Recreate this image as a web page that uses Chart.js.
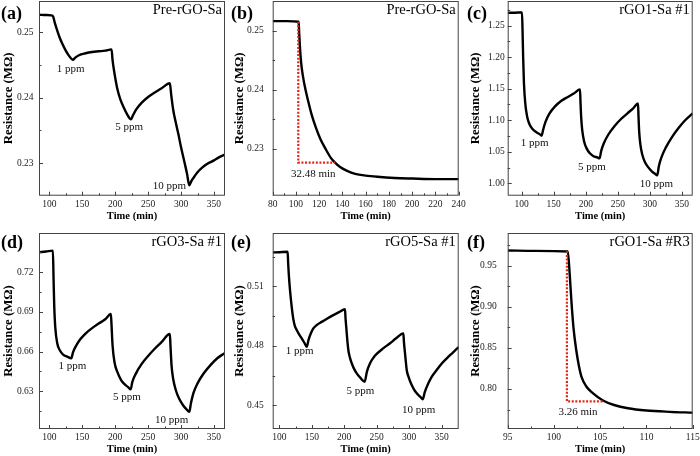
<!DOCTYPE html>
<html>
<head>
<meta charset="utf-8">
<script src="https://cdn.jsdelivr.net/npm/chart.js@4.4.0/dist/chart.umd.min.js"></script>
<style>
  body { margin: 0; background: #fff; width: 700px; height: 456px; position: relative; overflow: hidden; }
  canvas { position: absolute; }
</style>
</head>
<body>
<script>
// ---- data: [time (min), resistance (MΩ)] ----
const curveA = [[84.4,0.2527],[95,0.25265],[103,0.2526],[106,0.2524],[108,0.2516],[111,0.2506],[115,0.2494],[120,0.2482],[125,0.2472],[130,0.2464],[136,0.2458],
  [139,0.2461],[145,0.2465],[155,0.2468],[165,0.2470],[175,0.2471],[185,0.2472],[194.5,0.2474],
  [196,0.2458],[199,0.2437],[203,0.2415],[208,0.2397],[213,0.2385],[218,0.2375],[224,0.2367],
  [227,0.2373],[232,0.2382],[240,0.2392],[250,0.2401],[260,0.2408],[270,0.2414],[283,0.2422],
  [285,0.2405],[288,0.2382],[292,0.2362],[296,0.2344],[300,0.2324],[305,0.2302],[309,0.2284],[312.5,0.2266],
  [316,0.2273],[320,0.2279],[325,0.2286],[332,0.2293],[340,0.2299],[350,0.2304],[358,0.2309],[366.7,0.2313]];

const curveB = [[80,0.2516],[92,0.2516],[102.3,0.2515],[102.8,0.2495],[103.5,0.2470],[104.5,0.2445],[106,0.2423],[108,0.2402],
  [110.5,0.2381],[113.5,0.2358],[117,0.2337],[121,0.2317],[125.5,0.2300],[130,0.2285],[133.6,0.2277],[138,0.22695],
  [144,0.2263],[151,0.2258],[160,0.2255],[170,0.2253],[185,0.2251],[200,0.2250],[220,0.2249],[240,0.2249]];
const redB = [[102,0.2515],[102,0.2277],[133.6,0.2277]];

const curveC = [[78.2,1.2704],[90,1.2706],[100.5,1.2712],[101.3,1.245],[102.3,1.200],[103.5,1.160],[105.5,1.128],[108.5,1.106],[112,1.094],[117,1.086],[123,1.081],[128,1.078],[131,1.0756],
  [133.5,1.085],[137,1.097],[143,1.110],[152,1.122],[162,1.131],[172,1.137],[182,1.143],[191,1.149],
  [191.8,1.128],[192.8,1.105],[194.5,1.084],[197.5,1.066],[201.5,1.055],[206,1.048],[212,1.043],[218,1.041],[221.5,1.0395],
  [224,1.051],[228,1.063],[235,1.077],[245,1.091],[255,1.102],[265,1.111],[274,1.119],[281.5,1.1265],
  [282.3,1.105],[283.3,1.082],[285,1.063],[288,1.046],[292,1.034],[297,1.026],[303,1.019],[308,1.015],[311.5,1.0125],
  [314,1.027],[318,1.041],[325,1.057],[335,1.074],[345,1.088],[355,1.100],[366.8,1.111]];

const curveD = [[84.4,0.7351],[95,0.7357],[105.5,0.7364],[106.5,0.715],[107.5,0.695],[109,0.679],[112,0.6665],[116,0.661],[121,0.6577],[127,0.6562],[133.5,0.6550],
  [136,0.6595],[140,0.6638],[147,0.6693],[155,0.6737],[165,0.6778],[175,0.6812],[185,0.6845],[193.5,0.6885],
  [194.5,0.6800],[196,0.6650],[199,0.6520],[203,0.6450],[209,0.6385],[215,0.6350],[220,0.6330],[223.5,0.6315],
  [226,0.6370],[231,0.6430],[240,0.6505],[250,0.6567],[260,0.6622],[270,0.6670],[283,0.6733],
  [284,0.6640],[285.5,0.6500],[288,0.6395],[292,0.6310],[297,0.6245],[303,0.6195],[308,0.6165],[312.5,0.6145],
  [315,0.6210],[319,0.6290],[325,0.6360],[335,0.6440],[345,0.6500],[355,0.6550],[366.7,0.6590]];

const curveE = [[89.8,0.5272],[100,0.5273],[112.8,0.5275],[113.6,0.522],[114.5,0.5166],[116.5,0.508],[119.1,0.4997],[121.6,0.4935],[124,0.4900],[126.8,0.4880],[130.5,0.4858],[134.5,0.4838],[138.5,0.4816],[142.2,0.4795],
  [145,0.4830],[148.5,0.4862],[152.4,0.4888],[158,0.4906],[165.3,0.4921],[174,0.4938],[183.2,0.4955],[192,0.4970],[201.2,0.4985],
  [202,0.4940],[203.5,0.4880],[205,0.4820],[206.5,0.4775],[209,0.4738],[211.6,0.4712],[215,0.4685],[219.3,0.4661],[225,0.4638],[231.5,0.4619],
  [235,0.4670],[239.8,0.4712],[245,0.4740],[250,0.4759],[260,0.4787],[270.6,0.4813],[280,0.4838],[291.1,0.4863],
  [292,0.4820],[293.7,0.4762],[295,0.4718],[296.3,0.4678],[299.5,0.4640],[304,0.4602],[309,0.4572],[314.2,0.4552],[318,0.4540],[321,0.4530],
  [324,0.4565],[329.6,0.4611],[335,0.4645],[342.5,0.4678],[350,0.4710],[358,0.4737],[367,0.4765],[376.4,0.4794]];

const curveF = [[95,0.9685],[98,0.9680],[101.5,0.9672],[101.7,0.940],[101.9,0.905],[102.1,0.876],[102.4,0.848],[102.7,0.828],[103.0,0.814],
  [103.5,0.803],[104.2,0.795],[105.3,0.786],[106.5,0.7805],[108,0.7765],[110,0.7738],[112.5,0.7722],[115,0.7712]];
const redF = [[101.4,0.9675],[101.4,0.785],[105.3,0.785]];

// annotations: [text, time, resistance]
const notesA = [['1 ppm',132.6,0.2444],['5 ppm',221.4,0.2355],['10 ppm',282.4,0.2265]];
const notesB = [['32.48 min',114.9,0.2258]];
const notesC = [['1 ppm',120.3,1.0638],['5 ppm',209.7,1.0257],['10 ppm',310,0.999]];
const notesD = [['1 ppm',135,0.6489],['5 ppm',218,0.6253],['10 ppm',285.8,0.6085]];
const notesE = [['1 ppm',131.5,0.4775],['5 ppm',225,0.4570],['10 ppm',314.8,0.4476]];
const notesF = [['3.26 min',102.6,0.7717]];

// tick values
const timeTicks = [100,150,200,250,300,350];
const timeMinor = [125,175,225,275,325];
const timeTicksB = [80,100,120,140,160,180,200,220,240];
const timeMinorB = [90,110,130,150,170,190,210,230];
const timeTicksF = [95,100,105,110,115];
const timeMinorF = [97.5,102.5,107.5,112.5];
const resTicksAB = [0.23,0.24,0.25];
const resMinorAB = [0.235,0.245];
const resTicksC = [1.00,1.05,1.10,1.15,1.20,1.25];
const resMinorC = [1.025,1.075,1.125,1.175,1.225,1.275];
const resTicksD = [0.63,0.66,0.69,0.72];
const resMinorD = [0.615,0.645,0.675,0.705,0.735];
const resTicksE = [0.45,0.48,0.51];
const resMinorE = [0.465,0.495,0.525];
const resTicksF = [0.80,0.85,0.90,0.95];
const resMinorF = [0.775,0.825,0.875,0.925,0.975];

Chart.defaults.font.family = '"Liberation Serif", "Times New Roman", serif';

// frame, inward ticks, panel letter, title and notes
const decor = {
  id: 'decor',
  afterDraw(chart, args, o) {
    const {ctx, chartArea: a} = chart;
    const xs = chart.scales.x, ys = chart.scales.y;
    ctx.save();
    ctx.strokeStyle = '#444';
    ctx.lineWidth = 1;
    ctx.beginPath();
    const xt = (list, len) => list.forEach(v => {
      const px = Math.round(xs.getPixelForValue(v)) + 0.5;
      ctx.moveTo(px, a.bottom); ctx.lineTo(px, a.bottom - len);
    });
    const yt = (list, len) => list.forEach(v => {
      const py = Math.round(ys.getPixelForValue(v)) + 0.5;
      if (py < a.top || py > a.bottom) return;
      ctx.moveTo(a.left, py); ctx.lineTo(a.left + len, py);
    });
    xt(o.xTicks, 4); xt(o.xMinor, 2.5);
    yt(o.yTicks, 4); yt(o.yMinor, 2.5);
    ctx.stroke();
    ctx.strokeRect(a.left + 0.5, a.top + 0.5, a.width - 1, a.height - 1);

    ctx.fillStyle = '#000';
    ctx.textBaseline = 'middle';
    ctx.font = 'bold 18px "Liberation Serif"';
    ctx.textAlign = 'left';
    ctx.fillText(o.tag, 1, o.tagY);
    ctx.font = '14.5px "Liberation Serif"';
    ctx.textAlign = 'right';
    ctx.fillText(o.title, a.right - 3, a.top + 9.5);
    ctx.font = '11px "Liberation Serif"';
    ctx.fillStyle = '#111';
    ctx.textAlign = 'center';
    o.notes.forEach(n => ctx.fillText(n[0], xs.getPixelForValue(n[1]), ys.getPixelForValue(n[2])));
    ctx.restore();
  }
};

function makePanel(p) {
  const cv = document.createElement('canvas');
  cv.width = p.w; cv.height = p.h;
  cv.style.left = p.left + 'px';
  cv.style.top = p.top + 'px';
  document.body.appendChild(cv);

  const datasets = [{
    data: p.curve.map(([x, y]) => ({x, y})),
    borderColor: '#000', borderWidth: 2.4, pointRadius: 0,
    cubicInterpolationMode: 'monotone', fill: false
  }];
  if (p.red) {
    datasets.unshift({
      data: p.red.map(([x, y]) => ({x, y})),
      borderColor: '#e3241b', borderWidth: 2.2, borderDash: [2, 1.6],
      pointRadius: 0, tension: 0, fill: false
    });
  }

  new Chart(cv, {
    type: 'line',
    data: {datasets},
    options: {
      responsive: false,
      animation: false,
      events: [],
      layout: {autoPadding: false, padding: {top: p.padTop, right: p.padRight, left: 0, bottom: 0}},
      plugins: {
        legend: {display: false},
        tooltip: {enabled: false},
        decor: {tag: p.tag, tagY: p.tagY, title: p.title, notes: p.notes,
                xTicks: p.xTicks, xMinor: p.xMinor, yTicks: p.yTicks, yMinor: p.yMinor}
      },
      scales: {
        x: {
          type: 'linear', min: p.xMin, max: p.xMax,
          grid: {display: false, drawTicks: false}, border: {display: false},
          ticks: {autoSkip: false, maxRotation: 0, padding: 3, color: '#222', font: {size: 9.5}, callback: v => v},
          afterBuildTicks: s => { s.ticks = p.xTicks.map(v => ({value: v})); },
          afterFit: s => { s.height = p.xH; s.paddingLeft = 0; s.paddingRight = 0; },
          title: {display: true, text: 'Time (min)', color: '#000', font: {size: 10.5, weight: 'bold'},
                  padding: {top: 0, bottom: p.xTitlePad}}
        },
        y: {
          type: 'linear', min: p.yMin, max: p.yMax,
          grid: {display: false, drawTicks: false}, border: {display: false},
          ticks: {padding: p.yTickPad, color: '#222', font: {size: 9.5}, callback: v => v.toFixed(2)},
          afterBuildTicks: s => { s.ticks = p.yTicks.map(v => ({value: v})); },
          afterFit: s => { s.width = p.yW; s.paddingTop = 0; s.paddingBottom = 0; },
          title: {display: true, text: 'Resistance (MΩ)', color: '#000', font: {size: 12.8, weight: 'bold'},
                  padding: {top: p.yTitlePad, bottom: 0}}
        }
      }
    },
    plugins: [decor]
  });
}

const row1 = {top: 0, h: 228, padTop: 1, xH: 32.3, xTitlePad: 5, tagY: 14};
const row2 = {top: 228, h: 228, padTop: 5, xH: 27, xTitlePad: 0, tagY: 15};
const col1 = {left: 0, w: 230, yW: 39, padRight: 5, yTitlePad: 0.6};
const col2 = {left: 230, w: 236, yW: 42.7, padRight: 7.3, yTitlePad: 2.3};
const col3 = {left: 466, w: 234, yW: 41.7, padRight: 7.3, yTitlePad: 2.3};

makePanel({...row1, ...col1, tag: '(a)', title: 'Pre-rGO-Sa', curve: curveA, notes: notesA,
  xMin: 84.4, xMax: 366.7, xTicks: timeTicks, xMinor: timeMinor,
  yMin: 0.2250, yMax: 0.2548, yTicks: resTicksAB, yMinor: resMinorAB, yTickPad: 5.5});
makePanel({...row1, ...col2, tag: '(b)', title: 'Pre-rGO-Sa', curve: curveB, red: redB, notes: notesB,
  xMin: 80, xMax: 240, xTicks: timeTicksB, xMinor: timeMinorB,
  yMin: 0.2221, yMax: 0.2550, yTicks: resTicksAB, yMinor: resMinorAB, yTickPad: 9});
makePanel({...row1, ...col3, tag: '(c)', title: 'rGO1-Sa #1', curve: curveC, notes: notesC,
  xMin: 78.2, xMax: 366.8, xTicks: timeTicks, xMinor: timeMinor,
  yMin: 0.9803, yMax: 1.2892, yTicks: resTicksC, yMinor: resMinorC, yTickPad: 3});
makePanel({...row2, ...col1, tag: '(d)', title: 'rGO3-Sa #1', curve: curveD, notes: notesD,
  xMin: 84.4, xMax: 366.7, xTicks: timeTicks, xMinor: timeMinor,
  yMin: 0.6015, yMax: 0.7497, yTicks: resTicksD, yMinor: resMinorD, yTickPad: 5.5});
makePanel({...row2, ...col2, tag: '(e)', title: 'rGO5-Sa #1', curve: curveE, notes: notesE,
  xMin: 89.8, xMax: 376.4, xTicks: timeTicks, xMinor: timeMinor,
  yMin: 0.4380, yMax: 0.5370, yTicks: resTicksE, yMinor: resMinorE, yTickPad: 9});
makePanel({...row2, ...col3, tag: '(f)', title: 'rGO1-Sa #R3', curve: curveF, red: redF, notes: notesF,
  xMin: 95, xMax: 115, xTicks: timeTicksF, xMinor: timeMinorF,
  yMin: 0.7513, yMax: 0.9898, yTicks: resTicksF, yMinor: resMinorF, yTickPad: 11});
</script>
</body>
</html>
